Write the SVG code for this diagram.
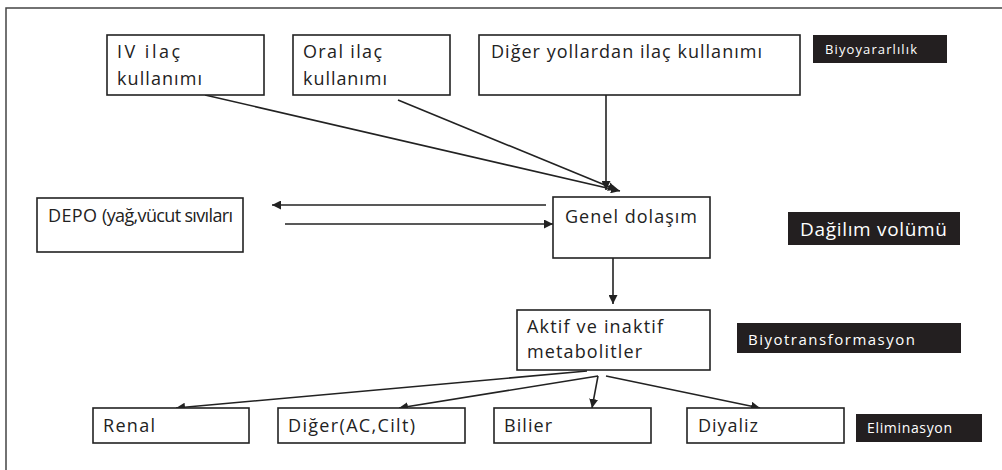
<svg xmlns="http://www.w3.org/2000/svg" width="1002" height="470" viewBox="0 0 1002 470">
<style>
.box{fill:#fff;stroke:#222;stroke-width:1.6}
.tag{fill:#231f20;stroke:none}
.t{font-family:"Open Sans","Liberation Sans",sans-serif;fill:#222;font-size:18px}
.w{font-family:"Open Sans","Liberation Sans",sans-serif;fill:#fff}
.c{fill:none;stroke:#222;stroke-width:1.6}
</style>
<defs>
<marker id="ah" viewBox="0 0 10 10" refX="10" refY="5" markerWidth="9" markerHeight="9" markerUnits="userSpaceOnUse" orient="auto">
<path d="M0,0 L10,5 L0,10 z" fill="#222"/>
</marker>
</defs>
<rect width="1002" height="470" fill="#fff"/>
<path d="M6,470 V8 H1002" fill="none" stroke="#444" stroke-width="1.5"/>

<g id="connectors">
<line class="c" x1="205" y1="95" x2="620" y2="191" marker-end="url(#ah)"/>
<line class="c" x1="398" y1="100" x2="617" y2="190" marker-end="url(#ah)"/>
<line class="c" x1="606" y1="95" x2="606" y2="190" marker-end="url(#ah)"/>
<line class="c" x1="546" y1="205" x2="272" y2="205" marker-end="url(#ah)"/>
<line class="c" x1="285" y1="224" x2="553" y2="224" marker-end="url(#ah)"/>
<line class="c" x1="613" y1="258" x2="613" y2="304" marker-end="url(#ah)"/>
<line class="c" x1="587" y1="371" x2="176" y2="408" marker-end="url(#ah)"/>
<line class="c" x1="598" y1="376" x2="399" y2="408" marker-end="url(#ah)"/>
<line class="c" x1="598" y1="376" x2="592" y2="408" marker-end="url(#ah)"/>
<line class="c" x1="606" y1="376" x2="760" y2="408" marker-end="url(#ah)"/>
</g>

<g id="iv">
<rect class="box" x="107" y="35" width="157" height="60"/>
<text class="t" x="117" y="58" textLength="63" lengthAdjust="spacing">IV ilaç</text>
<text class="t" x="117" y="85" textLength="85" lengthAdjust="spacing">kullanımı</text>
</g>
<g id="oral">
<rect class="box" x="293" y="35" width="157" height="60"/>
<text class="t" x="303" y="58" textLength="79" lengthAdjust="spacing">Oral ilaç</text>
<text class="t" x="303" y="85" textLength="84" lengthAdjust="spacing">kullanımı</text>
</g>
<g id="diger-yollar">
<rect class="box" x="479" y="35" width="321" height="60"/>
<text class="t" x="491" y="58" textLength="271" lengthAdjust="spacing">Diğer yollardan ilaç kullanımı</text>
</g>
<g id="biyoyararlilik">
<rect class="tag" x="813" y="35" width="134" height="28"/>
<text class="w" x="825" y="54" font-size="13" textLength="92" lengthAdjust="spacing">Biyoyararlılık</text>
</g>
<g id="depo">
<rect class="box" x="37" y="198" width="206" height="54"/>
<text class="t" x="48" y="222" font-size="19" textLength="49" lengthAdjust="spacing">DEPO</text>
<text class="t" x="102" y="222" font-size="12" textLength="131" lengthAdjust="spacing">(yağ,vücut sıvıları</text>
</g>
<g id="genel-dolasim">
<rect class="box" x="553" y="197" width="157" height="61"/>
<text class="t" x="565" y="223" font-size="19" textLength="132" lengthAdjust="spacing">Genel dolaşım</text>
</g>
<g id="dagilim-volumu">
<rect class="tag" x="788" y="212" width="172" height="33"/>
<text class="w" x="800" y="236" font-size="19" textLength="147" lengthAdjust="spacing">Dağilım volümü</text>
</g>
<g id="aktif">
<rect class="box" x="517" y="310" width="193" height="60"/>
<text class="t" x="527" y="333" textLength="136" lengthAdjust="spacing">Aktif ve inaktif</text>
<text class="t" x="527" y="358" textLength="115" lengthAdjust="spacing">metabolitler</text>
</g>
<g id="biyotransformasyon">
<rect class="tag" x="737" y="323" width="224" height="30"/>
<text class="w" x="748" y="345" font-size="15" textLength="167" lengthAdjust="spacing">Biyotransformasyon</text>
</g>
<g id="renal">
<rect class="box" x="93" y="408" width="156" height="35"/>
<text class="t" x="103" y="432" textLength="52" lengthAdjust="spacing">Renal</text>
</g>
<g id="diger-ac">
<rect class="box" x="278" y="408" width="187" height="35"/>
<text class="t" x="288" y="432" textLength="127" lengthAdjust="spacing">Diğer(AC,Cilt)</text>
</g>
<g id="bilier">
<rect class="box" x="494" y="408" width="157" height="35"/>
<text class="t" x="504" y="432" textLength="48" lengthAdjust="spacing">Bilier</text>
</g>
<g id="diyaliz">
<rect class="box" x="687" y="408" width="157" height="35"/>
<text class="t" x="698" y="432" textLength="60" lengthAdjust="spacing">Diyaliz</text>
</g>
<g id="eliminasyon">
<rect class="tag" x="856" y="414" width="126" height="28"/>
<text class="w" x="867" y="433" font-size="14" textLength="85" lengthAdjust="spacing">Eliminasyon</text>
</g>
</svg>
